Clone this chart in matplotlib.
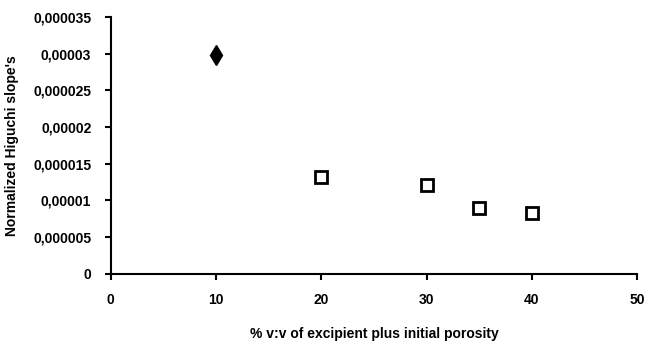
import matplotlib
matplotlib.use("Agg")
import matplotlib.pyplot as plt
from matplotlib import font_manager

# data
x_ref = [10]
y_ref = [0.0000298]
x_exc = [20, 30, 35, 40]
y_exc = [0.0000132, 0.0000121, 0.0000090, 0.0000083]

x_ticks = [0, 10, 20, 30, 40, 50]
y_ticks = [0, 0.000005, 0.00001, 0.000015, 0.00002, 0.000025, 0.00003, 0.000035]
y_tick_labels = ["0", "0,000005", "0,00001", "0,000015", "0,00002",
                 "0,000025", "0,00003", "0,000035"]

names = {f.name for f in font_manager.fontManager.ttflist}
fam = "Liberation Sans Narrow" if "Liberation Sans Narrow" in names else "Liberation Sans"
plt.rcParams["font.family"] = [fam, "DejaVu Sans"]
plt.rcParams["font.weight"] = "bold"

fig = plt.figure(figsize=(6.48, 3.45), dpi=100)
ax = fig.add_axes([0.171, 0.206, 0.812, 0.745])

ax.plot(x_ref, y_ref, linestyle="none", marker="d", markersize=10,
        markerfacecolor="black", markeredgecolor="black", clip_on=False)
ax.plot(x_exc, y_exc, linestyle="none", marker="s", markersize=9,
        markerfacecolor="white", markeredgecolor="black", markeredgewidth=2,
        clip_on=False)

ax.set_xlim(0, 50)
ax.set_ylim(0, 0.000035)
ax.set_xticks(x_ticks)
ax.set_xticklabels([str(v) for v in x_ticks])
ax.set_yticks(y_ticks)
ax.set_yticklabels(y_tick_labels)

for s in ["top", "right"]:
    ax.spines[s].set_visible(False)
for s in ["left", "bottom"]:
    ax.spines[s].set_linewidth(1.5)
ax.tick_params(axis="both", direction="out", length=4, width=1.5,
               labelsize=10, pad=10)
for lab in ax.get_xticklabels() + ax.get_yticklabels():
    lab.set_fontweight("bold")

ax.set_xlabel("% v:v of excipient plus initial porosity", fontsize=10,
              fontweight="bold", labelpad=14)
ax.set_ylabel("Normalized Higuchi slope's", fontsize=10,
              fontweight="bold", labelpad=10)

fig.savefig("out.png", dpi=100)
